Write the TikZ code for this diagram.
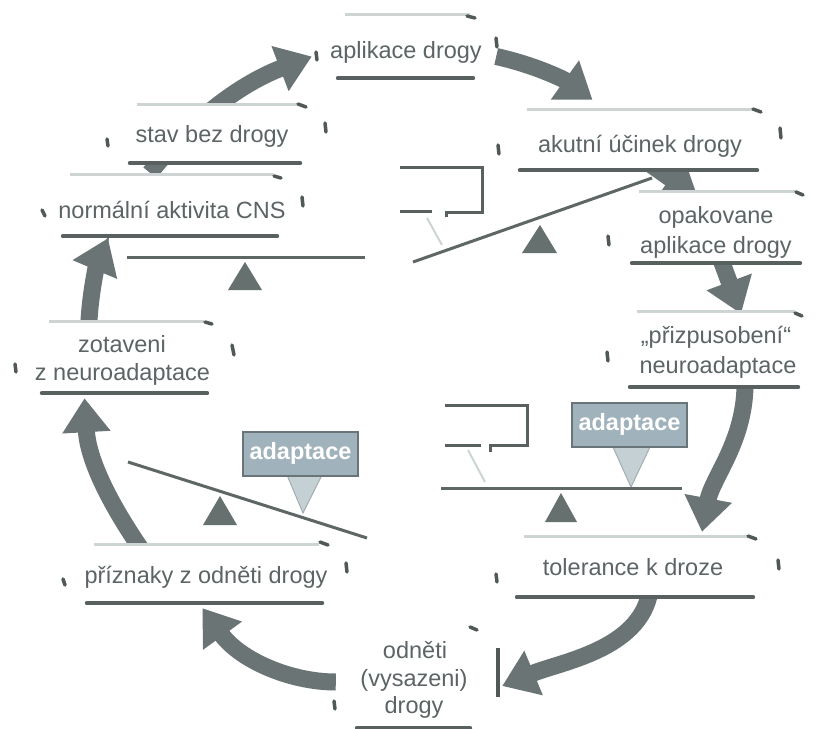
\documentclass[tikz,border=0pt]{standalone}
\usepackage{fontspec}
\setmainfont{Liberation Sans}
\usetikzlibrary{arrows.meta,calc}
\definecolor{txtgray}{RGB}{92,100,101}
\definecolor{ulgray}{RGB}{88,96,96}
\definecolor{tlgray}{RGB}{206,211,211}
\definecolor{arrgray}{RGB}{107,116,116}
\definecolor{tickgray}{RGB}{80,88,88}
\definecolor{beamgray}{RGB}{94,102,102}
\definecolor{fulgray}{RGB}{102,112,111}
\definecolor{adfill}{RGB}{160,178,188}
\definecolor{adborder}{RGB}{105,116,120}
\definecolor{ptfill}{RGB}{196,208,212}
\definecolor{ptborder}{RGB}{160,174,178}
\definecolor{ghost}{RGB}{205,212,212}
\begin{document}
\begin{tikzpicture}[x=1pt,y=-1pt,
  frame/.style={rectangle, fill=white, inner sep=0pt, draw=none},
  txt/.style={anchor=base, inner sep=0pt, text=txtgray, font=\fontsize{23.5}{28}\selectfont},
  ul/.style={draw=ulgray, line width=4pt, line cap=round},
  tl/.style={draw=tlgray, line width=3pt},
  bigarrow/.style={draw=arrgray, line width=17pt, -{Triangle[width=46pt,length=34pt]}},
  tickmark/.style={draw=tickgray, line width=3.5pt, line cap=round},
  beam/.style={draw=beamgray, line width=3pt},
  fulcrum/.style={fill=fulgray},
  boxline/.style={draw=ulgray, line width=3pt},
  ghostline/.style={draw=ghost, line width=2pt},
  adapt/.style={rectangle, fill=adfill, draw=adborder, line width=2pt, text=white,
    font=\bfseries\fontsize{23.5}{28}\selectfont, minimum width=115pt, minimum height=44pt, inner sep=0pt},
  pointer/.style={fill=ptfill, draw=ptborder, line width=1pt}
]
\useasboundingbox (0,0) rectangle (823,729);
\fill[white] (0,0) rectangle (823,729);

% frames (positions)
\path
  (405.5,46.5) node[frame, minimum width=135pt, minimum height=63pt] (apl) {}
  (638.5,140) node[frame, minimum width=237pt, minimum height=60pt] (aku) {}
  (716,227.5) node[frame, minimum width=168pt, minimum height=71pt] (opa) {}
  (714,349.5) node[frame, minimum width=168pt, minimum height=75pt] (pri) {}
  (635,567) node[frame, minimum width=236pt, minimum height=60pt] (tol) {}
  (413.5,680) node[frame, minimum width=113pt, minimum height=96pt] (odn) {}
  (204.5,574) node[frame, minimum width=235pt, minimum height=58pt] (prz) {}
  (124.5,357.5) node[frame, minimum width=165pt, minimum height=71pt] (zot) {}
  (170,205.5) node[frame, minimum width=214pt, minimum height=61pt] (nor) {}
  (215,134) node[frame, minimum width=170pt, minimum height=58pt] (stv) {};

% arrows
\draw[bigarrow] ($(nor.north)+(-20,-2)$) .. controls (200,110) and (250,80) .. ($(apl.west)+(-26,10)$);
\draw[bigarrow] ($(apl.east)+(23,10)$) .. controls (535,65) and (565,80) .. ($(aku.north)+(-46,-10)$);
\draw[bigarrow] ($(aku.south)+(6,-10)$) -- ($(opa.north)+(-18,6)$);
\draw[bigarrow] ($(opa.south)+(4,-6)$) -- ($(pri.north)+(27,2)$);
\draw[bigarrow] ($(pri.south)+(31,-6)$) .. controls (746,440) and (712,478) .. ($(tol.north)+(67,-5)$);
\draw[bigarrow] ($(tol.south)+(15,-6)$) .. controls (640,650) and (560,662) .. ($(odn.east)+(32,6)$);
\draw[bigarrow] ($(odn.west)+(-21,2)$) .. controls (290,682) and (240,660) .. ($(prz.south)+(-2,5)$);
\draw[bigarrow] ($(prz.north)+(-58,12)$) .. controls (110,505) and (88,460) .. ($(zot.south)+(-40,5)$);
\draw[bigarrow] ($(zot.north)+(-36,8)$) .. controls (90,290) and (98,262) .. ($(nor.south)+(-62,2)$);

% frames on top of arrows
\foreach \n in {apl,aku,opa,pri,tol,odn,prz,zot,nor,stv}{
  \fill[white] (\n.south west) rectangle (\n.north east);
}

% top light lines and underlines
\foreach \n in {apl,aku,opa,pri,tol,prz,zot,nor,stv}{
  \draw[tl] ($(\n.north west)+(7,0)$) -- ($(\n.north east)+(-3,0)$);
  \draw[ul] (\n.south west) -- (\n.south east);
}
\draw[ul] (odn.south west) -- (odn.south east);

% texts
\node[txt] (aplt) at (406,58) {aplikace drogy};
\node[txt] (akut) at (640,152) {akutní účinek drogy};
\node[txt] (opa1) at (716,223) {opakovane};
\node[txt] (opa2) at (716,253) {aplikace drogy};
\node[txt] (pri1) at (716,343) {„přizpusobení“};
\node[txt] (pri2) at (718,373) {neuroadaptace};
\node[txt] (tolt) at (633,575) {tolerance k droze};
\node[txt] (odn1) at (415,658) {odněti};
\node[txt] (odn2) at (414,686) {(vysazeni)};
\node[txt] (odn3) at (414,713) {drogy};
\node[txt] (przt) at (206,583) {příznaky z odněti drogy};
\node[txt] (zot1) at (122,352) {zotaveni};
\node[txt] (zot2) at (122.5,380) {z neuroadaptace};
\node[txt] (nort) at (172,218) {normální aktivita CNS};
\node[txt] (stvt) at (212,142) {stav bez drogy};

% corner ticks
\foreach \a/\b in {
  {(316,52)}/{(317,60)}, {(496,38)}/{(497,47)}, {(467,16)}/{(475,18)},
  {(753,109)}/{(761,112)}, {(780,128)}/{(781,138)}, {(498,145)}/{(499,154)},
  {(796,192)}/{(803,195)}, {(608,236)}/{(609,245)},
  {(795,313)}/{(802,316)}, {(607,352)}/{(608,361)},
  {(748,536)}/{(756,539)}, {(778,560)}/{(779,569)}, {(496,574)}/{(497,582)},
  {(470,627)}/{(477,630)}, {(334,701)}/{(335,709)},
  {(320,542)}/{(328,545)}, {(346,563)}/{(347,572)}, {(63,579)}/{(65,585)},
  {(205,322)}/{(212,324)}, {(232,345)}/{(234,355)}, {(15,364)}/{(16,372)},
  {(274,176)}/{(281,178)}, {(302,197)}/{(303,206)}, {(42,210)}/{(45,216)},
  {(298,104)}/{(306,107)}, {(325,123)}/{(326,132)}, {(107,139)}/{(108,146)}}{
  \draw[tickmark] \a -- \b;
}
\draw[tickgray, line width=4pt] (498,648) -- (498,697);

% balance 1 (top left)
\draw[beam] (127,257) -- (365,257);
\fill[fulcrum] (245,262) -- (262,290) -- (228,290) -- cycle;

% balance 2 (top right)
\draw[boxline] (400,167) -- (482,167) -- (482,212) -- (446,212) -- (446,217);
\draw[boxline] (400,211) -- (432,211);
\draw[ghostline] (427,218) -- (442,245);
\draw[beam] (413,262) -- (652,178);
\fill[fulcrum] (540,225) -- (557,253) -- (522,253) -- cycle;

% balance 3 (middle right)
\draw[boxline] (445,405) -- (527,405) -- (527,445) -- (490,445) -- (490,452);
\draw[boxline] (445,445) -- (481,445);
\draw[ghostline] (468,450) -- (485,482);
\path[pointer] (613,447) -- (650,447) -- (631,487) -- cycle;
\draw[beam] (441,488) -- (682,488);
\fill[fulcrum] (561,493) -- (577,522) -- (545,522) -- cycle;
\node[adapt] (ad1) at (629.5,424.5) {adaptace};

% balance 4 (bottom left)
\path[pointer] (287,475) -- (322,475) -- (303,513) -- cycle;
\draw[beam] (128,462) -- (367,538);
\fill[fulcrum] (220,496) -- (237,525) -- (203,525) -- cycle;
\node[adapt] (ad2) at (300.5,453.5) {adaptace};
\end{tikzpicture}
\end{document}
